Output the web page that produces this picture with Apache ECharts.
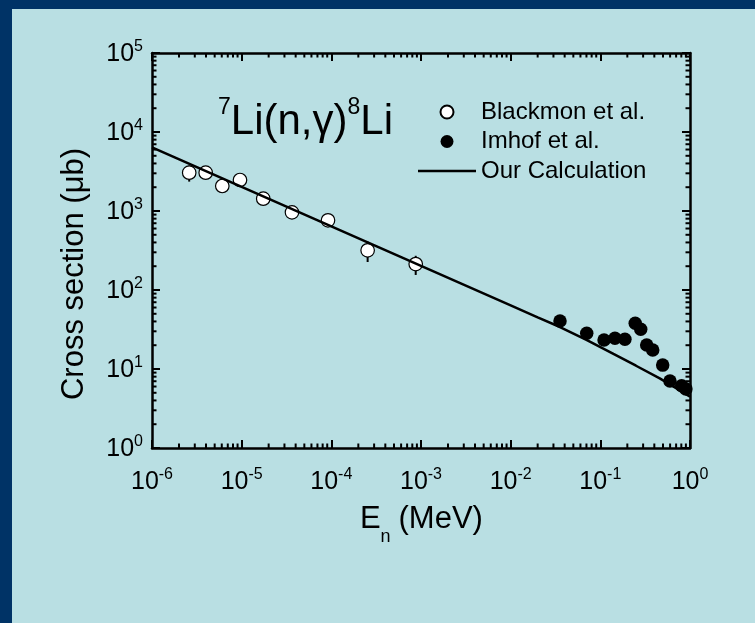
<!DOCTYPE html>
<html>
<head>
<meta charset="utf-8">
<script src="https://cdn.jsdelivr.net/npm/echarts@6/dist/echarts.min.js"></script>
<style>
html, body { margin: 0; padding: 0; }
#main { width: 755px; height: 623px; }
</style>
</head>
<body>
<div id="main"></div>
<script>
// Blackmon et al. (open circles)
let blackmonE = [2.6e-6, 3.97e-6, 6.08e-6, 9.58e-6, 1.74e-5, 3.64e-5, 9.18e-5, 2.54e-4, 8.73e-4];
let blackmonSigma = [3055, 3055, 2072, 2467, 1432, 962, 763, 318, 213];
let blackmonErr = [700, 420, 380, 300, 150, 90, 80, 92, 58];
// Imhof et al. (filled circles)
let imhofE = [0.0355, 0.0705, 0.110, 0.1455, 0.188, 0.245, 0.282, 0.329, 0.384, 0.496, 0.598, 0.807, 0.9];
let imhofSigma = [40.5, 28.3, 23.3, 24.5, 23.8, 37.9, 31.8, 20.1, 17.4, 11.2, 7.05, 6.15, 5.6];
let imhofErr = [6, 4.2, 3.5, 3.7, 3.6, 5.7, 4.8, 3, 2.6, 1.7, 1.05, 0.9, 0.85];
// Our calculation (line)
let calcE = [1e-6, 1e-5, 1e-4, 1e-3, 1e-2, 0.02, 0.0355, 0.07, 0.14, 0.25, 0.46, 0.7, 1];
let calcSigma = [6400, 2020, 640, 202, 64, 45, 34, 23.4, 15.5, 11, 7.6, 5.7, 4.46];
// axes
let xDecades = [-6, -5, -4, -3, -2, -1];
let yDecades = [0, 1, 2, 3, 4];
let minorSteps = [2, 3, 4, 5, 6, 7, 8, 9];

const FONT = '"Liberation Sans", Arial, sans-serif';
const X_MIN = 1e-6, X_MAX = 1, Y_MIN = 1, Y_MAX = 1e5;

// minor ticks (log spaced) for all four sides
let minorTicks = [];
xDecades.forEach(function (d) {
    minorSteps.forEach(function (k) { minorTicks.push([k * Math.pow(10, d), Y_MIN, 0]); });
});
yDecades.forEach(function (d) {
    minorSteps.forEach(function (k) { minorTicks.push([X_MIN, k * Math.pow(10, d), 1]); });
});

function errData(xs, ys, es) {
    let out = [];
    for (let i = 0; i < xs.length; i++) {
        out.push([xs[i], ys[i] - es[i], ys[i] + es[i]]);
    }
    return out;
}
function pairs(xs, ys) {
    return xs.map(function (x, i) { return [x, ys[i]]; });
}

function powLabel(v) {
    let e = Math.round(Math.log10(v));
    return '{b|10}{s|' + e + '}';
}
//上标：b 底对齐、s 顶对齐
let labelRich = {
    b: { fontSize: 25, lineHeight: 28, verticalAlign: 'bottom', fontFamily: FONT, color: '#000' },
    s: { fontSize: 16, lineHeight: 9, verticalAlign: 'top', fontFamily: FONT, color: '#000' }
};

function renderErr(params, api) {
    let p1 = api.coord([api.value(0), api.value(1)]);
    let p2 = api.coord([api.value(0), api.value(2)]);
    return {
        type: 'line',
        shape: { x1: p1[0], y1: p1[1], x2: p2[0], y2: p2[1] },
        style: { stroke: '#000', lineWidth: 2 }
    };
}

function renderMinor(params, api) {
    let cs = params.coordSys;
    let len = 4.5;
    let st = { stroke: '#000', lineWidth: 2 };
    if (api.value(2) === 0) {
        let px = api.coord([api.value(0), Y_MIN])[0];
        return { type: 'group', children: [
            { type: 'line', shape: { x1: px, y1: cs.y + cs.height, x2: px, y2: cs.y + cs.height - len }, style: st },
            { type: 'line', shape: { x1: px, y1: cs.y, x2: px, y2: cs.y + len }, style: st }
        ] };
    }
    let py = api.coord([X_MIN, api.value(1)])[1];
    return { type: 'group', children: [
        { type: 'line', shape: { x1: cs.x, y1: py, x2: cs.x + len, y2: py }, style: st },
        { type: 'line', shape: { x1: cs.x + cs.width, y1: py, x2: cs.x + cs.width - len, y2: py }, style: st }
    ] };
}

let axisLineStyle = { show: true, lineStyle: { color: '#000', width: 2.5 } };
let majorTick = { show: true, inside: true, length: 8, lineStyle: { color: '#000', width: 2 } };

option = {
    backgroundColor: '#b9dfe3',
    animation: false,
    textStyle: { fontFamily: FONT },
    grid: { left: 152, top: 53, width: 538, height: 395 },
    xAxis: [
        {
            type: 'log', logBase: 10, min: X_MIN, max: X_MAX, interval: 1, position: 'bottom',
            axisLine: axisLineStyle, axisTick: majorTick, splitLine: { show: false },
            axisLabel: { formatter: powLabel, rich: labelRich, margin: 19, showMinLabel: true, showMaxLabel: true }
        },
        {
            type: 'log', logBase: 10, min: X_MIN, max: X_MAX, interval: 1, position: 'top',
            axisLine: axisLineStyle, axisTick: majorTick, splitLine: { show: false },
            axisLabel: { show: false }
        }
    ],
    yAxis: [
        {
            type: 'log', logBase: 10, min: Y_MIN, max: Y_MAX, interval: 1, position: 'left',
            axisLine: axisLineStyle, axisTick: majorTick, splitLine: { show: false },
            axisLabel: { formatter: powLabel, rich: labelRich, margin: 9, showMinLabel: true, showMaxLabel: true }
        },
        {
            type: 'log', logBase: 10, min: Y_MIN, max: Y_MAX, interval: 1, position: 'right',
            axisLine: axisLineStyle, axisTick: majorTick, splitLine: { show: false },
            axisLabel: { show: false }
        }
    ],
    legend: {
        orient: 'vertical',
        left: 418,
        top: 100,
        padding: 0,
        itemWidth: 58,
        itemHeight: 13,
        itemGap: 5.5,
        textStyle: { fontSize: 24, lineHeight: 24, color: '#000', fontFamily: FONT },
        data: [
            'Blackmon et al.',
            'Imhof et al.',
            { name: 'Our Calculation', icon: 'path://M0,0L58,0L58,2.5L0,2.5Z' }
        ]
    },
    graphic: [
        { type: 'rect', shape: { x: 0, y: 0, width: 755, height: 9 }, style: { fill: '#003366' } },
        { type: 'rect', shape: { x: 0, y: 0, width: 12, height: 623 }, style: { fill: '#003366' } },
        {
            type: 'text', x: 218, y: 122,
            style: {
                text: '{s|7}{m|Li(n,γ)}{s|8}{m|Li}',
                verticalAlign: 'middle', align: 'left',
                rich: {
                    m: { fontSize: 42, lineHeight: 52, fontFamily: FONT, fill: '#000' },
                    s: { fontSize: 23, lineHeight: 8, verticalAlign: 'top', fontFamily: FONT, fill: '#000' }
                }
            }
        },
        {
            type: 'text', x: 74, y: 274, rotation: Math.PI / 2,
            style: { text: 'Cross section (μb)', font: '31px ' + FONT, align: 'center', verticalAlign: 'middle', fill: '#000' }
        },
        { type: 'text', x: 360, y: 519.5, style: { text: 'E', font: '31px ' + FONT, align: 'left', verticalAlign: 'middle', fill: '#000' } },
        { type: 'text', x: 380.5, y: 537, style: { text: 'n', font: '18px ' + FONT, align: 'left', verticalAlign: 'middle', fill: '#000' } },
        { type: 'text', x: 398.5, y: 519.5, style: { text: '(MeV)', font: '31px ' + FONT, align: 'left', verticalAlign: 'middle', fill: '#000' } }
    ],
    series: [
        {
            name: 'Blackmon et al.',
            type: 'scatter',
            data: pairs(blackmonE, blackmonSigma),
            symbol: 'circle',
            symbolSize: 13.5,
            itemStyle: { color: '#fff', borderColor: '#000', borderWidth: 1.2, opacity: 1 },
            z: 3
        },
        {
            name: 'Imhof et al.',
            type: 'scatter',
            data: pairs(imhofE, imhofSigma),
            symbol: 'circle',
            symbolSize: 13.5,
            itemStyle: { color: '#000', opacity: 1 },
            z: 3
        },
        {
            name: 'Our Calculation',
            type: 'line',
            data: pairs(calcE, calcSigma),
            symbol: 'none',
            lineStyle: { color: '#000', width: 2.5 },
            itemStyle: { color: '#000' },
            z: 4
        },
        {
            name: 'err1', type: 'custom', renderItem: renderErr,
            data: errData(blackmonE, blackmonSigma, blackmonErr),
            encode: { x: 0, y: [1, 2] }, z: 2
        },
        {
            name: 'err2', type: 'custom', renderItem: renderErr,
            data: errData(imhofE, imhofSigma, imhofErr),
            encode: { x: 0, y: [1, 2] }, z: 2
        },
        {
            name: 'minorTicks', type: 'custom', renderItem: renderMinor,
            data: minorTicks, clip: false,
            encode: { x: 0, y: 1 }, z: 5, silent: true
        }
    ]
};

let myChart = echarts.init(document.getElementById('main'));
myChart.setOption(option);
</script>
</body>
</html>
